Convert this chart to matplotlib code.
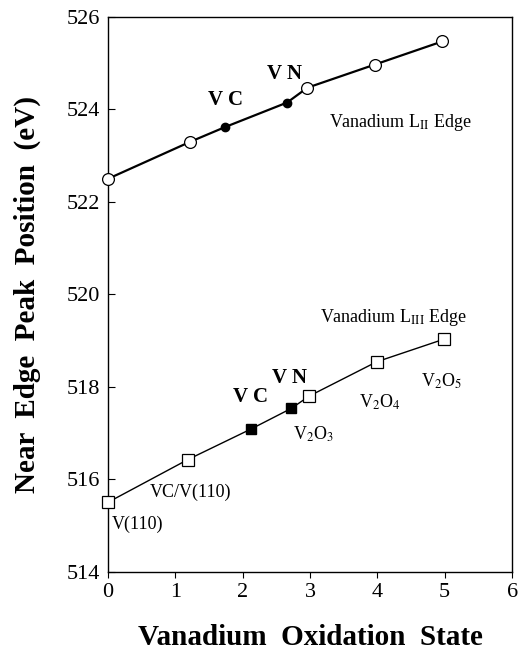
import matplotlib
matplotlib.use("Agg")
import matplotlib.pyplot as plt

plt.rcParams['font.family'] = ['Liberation Serif', 'DejaVu Serif']
plt.rcParams['mathtext.fontset'] = 'stix'

# L_II edge (circles)
l2_x = [0.0, 1.22, 2.96, 3.96, 4.96]
l2_y = [522.5, 523.3, 524.47, 524.97, 525.47]
l2_fx = [1.74, 2.66]          # VC, VN
l2_fy = [523.62, 524.15]

# L_III edge (squares)
l3_x = [0.0, 1.18, 2.99, 3.99, 4.99]
l3_y = [515.5, 516.42, 517.8, 518.54, 519.03]
l3_fx = [2.13, 2.72]          # VC, VN
l3_fy = [517.09, 517.53]

xticks = [0, 1, 2, 3, 4, 5, 6]
yticks = [514, 516, 518, 520, 522, 524, 526]

fig = plt.figure(figsize=(5.22, 6.54), dpi=100)
ax = fig.add_axes([0.207, 0.126, 0.774, 0.848])

# connecting lines through all points, sorted by x
p2 = sorted(zip(l2_x + l2_fx, l2_y + l2_fy))
ax.plot([p[0] for p in p2], [p[1] for p in p2], color='black', lw=1.6, zorder=1)
p3 = sorted(zip(l3_x + l3_fx, l3_y + l3_fy))
ax.plot([p[0] for p in p3], [p[1] for p in p3], color='black', lw=1.0, zorder=1)

ax.plot(l2_x, l2_y, 'o', ms=8.5, mfc='white', mec='black', mew=0.9, clip_on=False, zorder=3)
ax.plot(l2_fx, l2_fy, 'o', ms=6, mfc='black', mec='black', zorder=3)
ax.plot(l3_x, l3_y, 's', ms=8.5, mfc='white', mec='black', mew=0.9, clip_on=False, zorder=3)
ax.plot(l3_fx, l3_fy, 's', ms=6.5, mfc='black', mec='black', zorder=3)

ax.set_xlim(0, 6)
ax.set_ylim(514, 526)
ax.set_xticks(xticks)
ax.set_yticks(yticks)
ax.tick_params(axis='y', direction='in', length=5, width=0.8, pad=6, labelsize=16)
ax.tick_params(axis='x', direction='out', length=4, width=0.8, pad=4, labelsize=16)
for s in ax.spines.values():
    s.set_linewidth(1.0)

ax.set_xlabel('Vanadium  Oxidation  State', fontsize=21, fontweight='bold', labelpad=16)
ax.set_ylabel('Near  Edge  Peak  Position  (eV)', fontsize=21, fontweight='bold', labelpad=18)

bold = dict(fontsize=15, fontweight='bold', ha='center', va='center')
ax.text(1.75, 524.2, 'V C', **bold)
ax.text(2.62, 524.76, 'V N', **bold)
ax.text(2.11, 517.78, 'V C', **bold)
ax.text(2.70, 518.19, 'V N', **bold)

norm = dict(fontsize=13, ha='left', va='baseline')
ax.text(3.28, 523.62, r'Vanadium L$_{\mathrm{II}}$ Edge', **norm)
ax.text(3.15, 519.39, r'Vanadium L$_{\mathrm{III}}$ Edge', **norm)
ax.text(2.75, 516.86, r'V$_2$O$_3$', **norm)
ax.text(3.73, 517.55, r'V$_2$O$_4$', **norm)
ax.text(4.64, 518.0, r'V$_2$O$_5$', **norm)
ax.text(0.62, 515.62, 'VC/V(110)', **norm)
ax.text(0.06, 514.92, 'V(110)', **norm)

fig.savefig('out.png', dpi=100)
